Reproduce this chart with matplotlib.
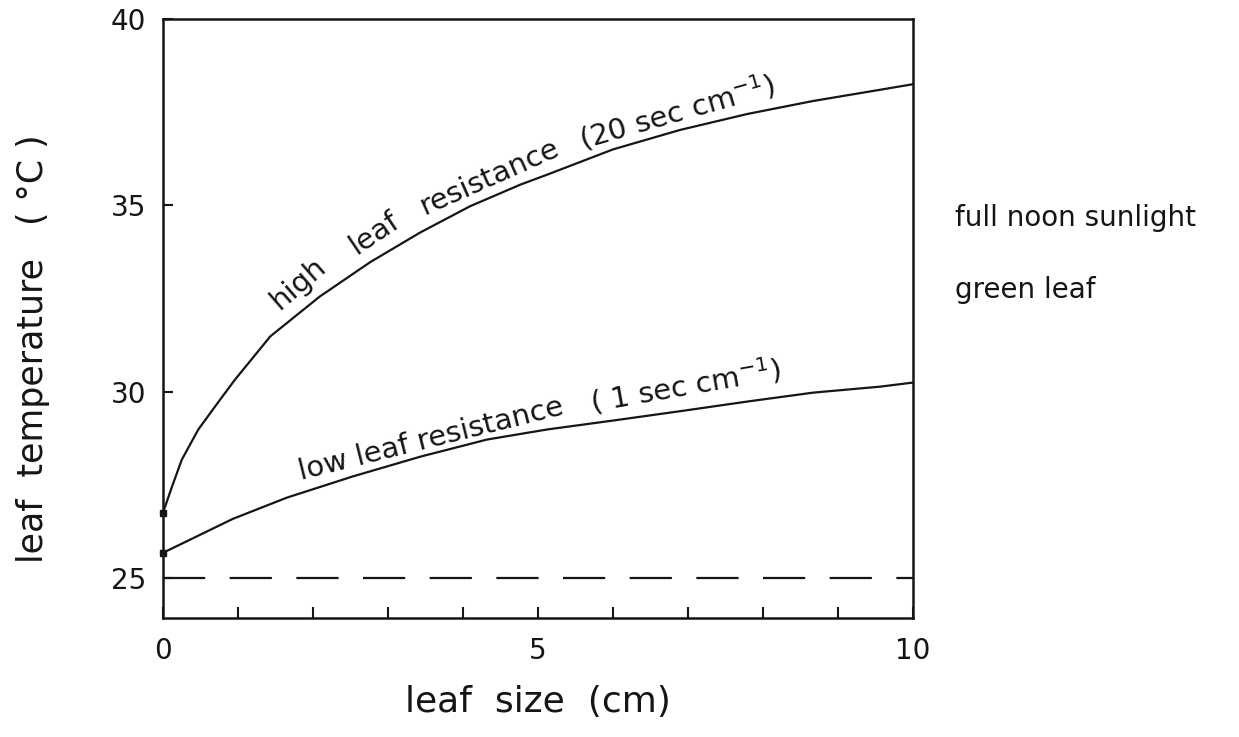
import matplotlib.pyplot as plt
import matplotlib as mpl

mpl.rcParams['font.family'] = ['DejaVu Sans']
mpl.rcParams['lines.solid_capstyle'] = 'round'
mpl.rcParams['lines.solid_joinstyle'] = 'round'

# leaf size (cm) and leaf temperature (C)
size_high = [0, 0.12, 0.25, 0.47, 0.76, 0.96, 1.43, 2.09, 2.76, 3.43, 4.09,
             4.76, 5.12, 6.0, 6.89, 7.79, 8.67, 9.56, 10]
temp_high = [26.75, 27.45, 28.17, 28.98, 29.78, 30.32, 31.48, 32.55, 33.47,
             34.27, 34.97, 35.55, 35.82, 36.5, 37.02, 37.45, 37.8, 38.1, 38.25]

size_low = [0, 0.93, 1.65, 2.53, 3.43, 4.32, 5.12, 6.0, 6.89, 7.79, 8.67, 9.56, 10]
temp_low = [25.67, 26.58, 27.15, 27.72, 28.25, 28.71, 28.98, 29.22, 29.47,
            29.73, 29.97, 30.13, 30.24]

# air temperature (dashed)
size_air = [0, 10]
temp_air = [25, 25]

x_ticks = [0, 5, 10]
x_minor = [1, 2, 3, 4, 6, 7, 8, 9]
y_ticks = [25, 30, 35, 40]

ink = '#151515'

fig = plt.figure(figsize=(12.39, 7.37), dpi=100)
ax = fig.add_axes([0.1316, 0.1615, 0.6053, 0.8127])

ax.plot(size_high, temp_high, color=ink, lw=1.6)
ax.plot(size_low, temp_low, color=ink, lw=1.6)
ax.plot(size_air, temp_air, color=ink, lw=1.6, dashes=(19, 11))
# small dots where the curves meet the axis
ax.plot([size_high[0], size_low[0]], [temp_high[0], temp_low[0]], 's',
        color=ink, ms=4, clip_on=False)

ax.set_xlim(0, 10)
ax.set_ylim(23.92, 40)

for s in ax.spines.values():
    s.set_linewidth(1.8)
    s.set_color(ink)

ax.set_xticks(x_ticks)
ax.set_xticks(x_minor, minor=True)
ax.set_yticks(y_ticks)
ax.tick_params(axis='both', which='both', direction='in', color=ink,
               width=1.5, labelsize=20, labelcolor=ink)
ax.tick_params(axis='x', which='both', length=8, pad=14)
ax.tick_params(axis='y', which='major', length=7, pad=12)

ax.set_xlabel('leaf  size  (cm)', fontsize=26, color=ink)
ax.xaxis.set_label_coords(0.5, -0.112)
ax.set_ylabel('leaf  temperature   ( °C )', fontsize=25, color=ink)
ax.yaxis.set_label_coords(-0.151, 0.45)

# labels along the curves
lab = dict(fontsize=21, color=ink, ha='center', va='center', rotation_mode='anchor')
ax.text(1.8, 32.9, 'high', rotation=41, **lab)
ax.text(2.82, 34.25, 'leaf', rotation=34, **lab)
ax.text(4.35, 35.75, 'resistance', rotation=24, **lab)
ax.text(6.85, 37.5, '(20 sec cm$^{-1}$)', rotation=16, **lab)

ax.text(3.57, 28.72, 'low leaf resistance', rotation=14, **lab)
ax.text(6.96, 30.15, '( 1 sec cm$^{-1}$)', rotation=10, **lab)

ax.text(1.056, 0.668, 'full noon sunlight', transform=ax.transAxes,
        fontsize=20, color=ink, va='center', ha='left')
ax.text(1.056, 0.548, 'green leaf', transform=ax.transAxes,
        fontsize=20, color=ink, va='center', ha='left')

fig.savefig('out.png', dpi=100, facecolor='white')
